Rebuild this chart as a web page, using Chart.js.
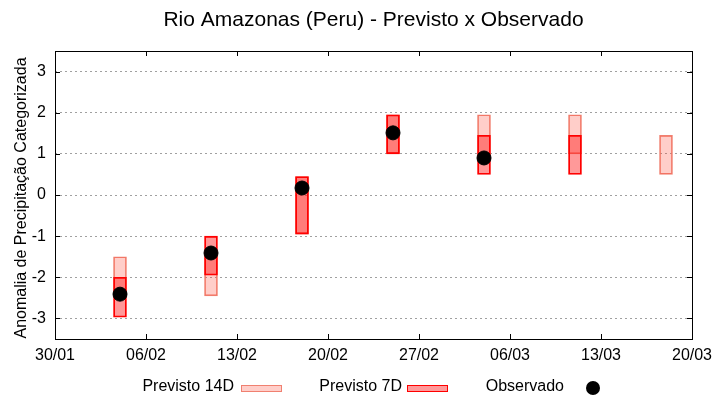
<!DOCTYPE html>
<html>
<head>
<meta charset="utf-8">
<script src="https://cdn.jsdelivr.net/npm/chart.js@4.4.0/dist/chart.umd.min.js"></script>
<style>
  html, body { margin: 0; padding: 0; background: #fff; }
  #wrap { width: 720px; height: 400px; }
</style>
</head>
<body>
<div id="wrap"><canvas id="chart"></canvas></div>
<script>
// ---- data ----
const titleText = "Rio Amazonas (Peru) - Previsto x Observado";
const yTitle = "Anomalia de Precipitação Categorizada";
const xTickLabels = ["30/01", "06/02", "13/02", "20/02", "27/02", "06/03", "13/03", "20/03"];
const yTicks = [-3, -2, -1, 0, 1, 2, 3];
const forecastDates = ["04/02", "11/02", "18/02", "25/02", "04/03", "11/03", "18/03"];
const prev14 = [[-2.45, -1.5], [-2.45, -1.5], [-0.95, 0.45], [1.0, 1.95], [1.0, 1.95], [1.0, 1.95], [0.5, 1.45]];
const prev7 = [[-2.97, -2.0], [-1.95, -1.0], [-0.95, 0.45], [1.0, 1.95], [0.5, 1.45], [0.5, 1.45], null];
const observed = [-2.41, -1.41, 0.17, 1.51, 0.9, null, null];

const FONT = "'Liberation Sans', Arial, sans-serif";
const C14 = { fill: "rgba(255, 60, 40, 0.25)", line: "#f08070" };
const C7 = { fill: "rgba(255, 0, 0, 0.4)", line: "#ff0000" };

// days since 30/01 (non-leap year)
function dayOf(s) {
  const [d, m] = s.split("/").map(Number);
  return Math.round((Date.UTC(2023, m - 1, d) - Date.UTC(2023, 0, 30)) / 86400000);
}

const toPoints = (arr) =>
  forecastDates.map((d, i) => (arr[i] == null ? null : { x: dayOf(d), y: arr[i] })).filter(Boolean);

// ---- frame, mirrored ticks, titles, key ----
const decor = {
  id: "decor",
  afterDatasetsDraw(chart) {
    const { ctx, chartArea: a, scales } = chart;
    ctx.save();
    ctx.strokeStyle = "#000";
    ctx.lineWidth = 1;
    ctx.strokeRect(a.left + 0.5, a.top + 0.5, a.right - a.left, a.bottom - a.top);
    ctx.beginPath();
    yTicks.forEach((v) => {
      const y = Math.round(scales.y.getPixelForValue(v)) + 0.5;
      ctx.moveTo(a.left, y); ctx.lineTo(a.left + 5, y);
      ctx.moveTo(a.right, y); ctx.lineTo(a.right - 5, y);
    });
    xTickLabels.forEach((l) => {
      const x = Math.round(scales.x.getPixelForValue(dayOf(l))) + 0.5;
      ctx.moveTo(x, a.bottom); ctx.lineTo(x, a.bottom - 5);
      ctx.moveTo(x, a.top); ctx.lineTo(x, a.top + 5);
    });
    ctx.stroke();
    ctx.restore();
  },
  afterDraw(chart) {
    const { ctx, chartArea: a } = chart;
    ctx.save();
    ctx.fillStyle = "#000";
    ctx.textBaseline = "middle";
    ctx.font = "21px " + FONT;
    ctx.textAlign = "center";
    ctx.fillText(titleText, (a.left + a.right) / 2, 20);

    // y axis title
    ctx.save();
    ctx.font = "16px " + FONT;
    ctx.translate(22, (a.top + a.bottom) / 2 + 3);
    ctx.rotate(-Math.PI / 2);
    ctx.fillText(yTitle, 0, 0);
    ctx.restore();

    // key
    const ky = 387;
    ctx.font = "16px " + FONT;
    ctx.textAlign = "right";
    ctx.fillText("Previsto 14D", 234, ky);
    ctx.fillText("Previsto 7D", 402, ky);
    ctx.fillText("Observado", 564, ky);

    ctx.fillStyle = C14.fill; ctx.fillRect(241, 385, 41, 6);
    ctx.strokeStyle = C14.line; ctx.lineWidth = 1;
    ctx.strokeRect(241.5, 385.5, 40, 6);
    ctx.fillStyle = C7.fill; ctx.fillRect(407, 385, 41, 6);
    ctx.strokeStyle = C7.line; ctx.lineWidth = 1;
    ctx.strokeRect(407.5, 385.5, 40, 6);

    ctx.fillStyle = "#000";
    ctx.beginPath();
    ctx.arc(593, ky + 1, 7, 0, Math.PI * 2);
    ctx.fill();
    ctx.restore();
  },
};

new Chart(document.getElementById("chart").getContext("2d"), {
  type: "bar",
  data: {
    datasets: [
      {
        label: "Previsto 14D",
        data: toPoints(prev14),
        backgroundColor: C14.fill,
        borderColor: C14.line,
        borderWidth: 1,
        borderSkipped: false,
        barThickness: 13,
        grouped: false,
        order: 3,
      },
      {
        label: "Previsto 7D",
        data: toPoints(prev7),
        backgroundColor: C7.fill,
        borderColor: C7.line,
        borderWidth: 1.2,
        borderSkipped: false,
        barThickness: 13,
        grouped: false,
        order: 2,
      },
      {
        type: "scatter",
        label: "Observado",
        data: toPoints(observed),
        backgroundColor: "#000",
        borderColor: "#000",
        pointRadius: 7,
        pointHoverRadius: 7,
        order: 1,
      },
    ],
  },
  options: {
    responsive: true,
    maintainAspectRatio: false,
    animation: false,
    layout: { padding: { top: 51, right: 28, left: 0, bottom: 0 } },
    plugins: { legend: { display: false }, title: { display: false }, tooltip: { enabled: false } },
    scales: {
      x: {
        type: "linear",
        offset: false,
        min: 0,
        max: dayOf(xTickLabels[xTickLabels.length - 1]),
        afterBuildTicks: (s) => { s.ticks = xTickLabels.map((l) => ({ value: dayOf(l) })); },
        afterFit: (s) => { s.height = 61; },
        grid: { display: false, drawTicks: false },
        border: { display: false },
        ticks: {
          autoSkip: false,
          maxRotation: 0,
          padding: 7,
          color: "#000",
          font: { family: FONT, size: 16 },
          callback: (v, i) => xTickLabels[i],
        },
      },
      y: {
        min: -3.5,
        max: 3.5,
        afterBuildTicks: (s) => { s.ticks = yTicks.map((v) => ({ value: v })); },
        afterFit: (s) => { s.width = 55; },
        grid: { color: "#a0a0a0", lineWidth: 1, drawTicks: false },
        border: { display: false, dash: [2, 3] },
        ticks: {
          padding: 9,
          color: "#000",
          font: { family: FONT, size: 16 },
        },
      },
    },
  },
  plugins: [decor],
});
</script>
</body>
</html>
